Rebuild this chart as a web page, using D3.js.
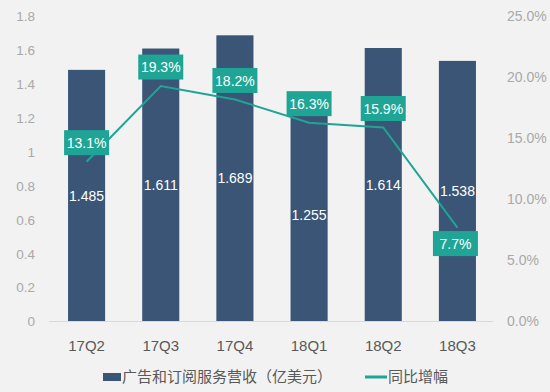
<!DOCTYPE html>
<html>
<head>
<meta charset="utf-8">
<script src="https://cdn.jsdelivr.net/npm/d3@7"></script>
<style>
  html, body { margin: 0; padding: 0; background: #f2f2f2; }
  svg { display: block; font-family: "Liberation Sans", Arial, "Noto Sans CJK SC", sans-serif; }
</style>
</head>
<body>
<svg id="chart" width="550" height="392"></svg>
<script>
// data
var quarters = ["17Q2", "17Q3", "17Q4", "18Q1", "18Q2", "18Q3"];
var revenue = [1.485, 1.611, 1.689, 1.255, 1.614, 1.538];
var growth = [13.1, 19.3, 18.2, 16.3, 15.9, 7.7];
var leftTicks = [0, 0.2, 0.4, 0.6, 0.8, 1, 1.2, 1.4, 1.6, 1.8];
var rightTicks = [0, 5, 10, 15, 20, 25];
var legendBar = "广告和订阅服务营收（亿美元）";
var legendLine = "同比增幅";

var svg = d3.select("#chart");
var barColor = "#3a5575", teal = "#1fa596";
var gray = "#a9a9a9", dark = "#595959";

var x = d3.scaleBand()
  .domain(quarters)
  .range([49.5, 494.5])
  .paddingInner(0.5)
  .paddingOuter(0.25);

var y = d3.scaleLinear().domain([0, 1.8]).range([321.5, 16.5]);
var y2 = d3.scaleLinear().domain([0, 25]).range([321.5, 16.5]);

// left axis
var leftAxis = d3.axisLeft(y).tickValues(leftTicks).tickSize(0).tickPadding(0)
  .tickFormat(function(d) { return d3.format("")(d); });
svg.append("g")
  .attr("transform", "translate(35,0)")
  .call(leftAxis)
  .call(function(g) { g.select(".domain").remove(); })
  .selectAll("text")
  .attr("fill", gray)
  .style("font-size", "13.5px");

// right axis
var rightAxis = d3.axisRight(y2).tickValues(rightTicks).tickSize(0).tickPadding(0)
  .tickFormat(function(d) { return d.toFixed(1) + "%"; });
svg.append("g")
  .attr("transform", "translate(507,0)")
  .call(rightAxis)
  .call(function(g) { g.select(".domain").remove(); })
  .selectAll("text")
  .attr("fill", gray)
  .style("font-size", "14px");

// bars
svg.append("g")
  .selectAll("rect")
  .data(revenue)
  .enter().append("rect")
  .attr("x", function(d, i) { return x(quarters[i]); })
  .attr("y", function(d) { return y(d); })
  .attr("width", x.bandwidth())
  .attr("height", function(d) { return y(0) - y(d); })
  .attr("fill", barColor);

// baseline
svg.append("line")
  .attr("x1", 49).attr("x2", 493)
  .attr("y1", y(0)).attr("y2", y(0))
  .attr("stroke", "#d9d9d9").attr("stroke-width", 1);

// category labels
var xAxis = d3.axisBottom(x).tickSize(0).tickPadding(0);
svg.append("g")
  .attr("transform", "translate(0,340)")
  .call(xAxis)
  .call(function(g) { g.select(".domain").remove(); })
  .selectAll("text")
  .attr("fill", dark)
  .style("font-size", "15px");

// bar value labels, centred in the bar
svg.append("g")
  .selectAll("text")
  .data(revenue)
  .enter().append("text")
  .attr("x", function(d, i) { return x(quarters[i]) + x.bandwidth() / 2; })
  .attr("y", function(d) { return (y(d) + y(0)) / 2; })
  .attr("dy", "0.35em")
  .attr("text-anchor", "middle")
  .attr("fill", "#fff")
  .style("font-size", "14px")
  .text(function(d) { return d3.format(".3f")(d); });

// growth line
var line = d3.line()
  .x(function(d, i) { return x(quarters[i]) + x.bandwidth() / 2; })
  .y(function(d) { return y2(d); });

svg.append("path")
  .datum(growth)
  .attr("d", line)
  .attr("fill", "none")
  .attr("stroke", teal)
  .attr("stroke-width", 2);

// growth label boxes
var boxW = 45, boxH = 25;
var lab = svg.append("g")
  .selectAll("g")
  .data(growth)
  .enter().append("g")
  .attr("transform", function(d, i) {
    var cx = x(quarters[i]) + x.bandwidth() / 2;
    var cy = y2(d) + (i === growth.length - 1 ? 16 : -19);
    if (i === growth.length - 1) cx -= 2;
    return "translate(" + cx + "," + cy + ")";
  });
lab.append("rect")
  .attr("x", -boxW / 2).attr("y", -boxH / 2)
  .attr("width", boxW).attr("height", boxH)
  .attr("fill", teal);
lab.append("text")
  .attr("text-anchor", "middle")
  .attr("dy", "0.36em")
  .attr("fill", "#fff")
  .style("font-size", "14px")
  .text(function(d) { return d.toFixed(1) + "%"; });

// legend
var legend = svg.append("g")
  .style("font-family", "'Noto Sans CJK SC', sans-serif")
  .style("font-size", "15px");
legend.append("rect")
  .attr("x", 103).attr("y", 373)
  .attr("width", 18).attr("height", 8)
  .attr("fill", barColor);
legend.append("text")
  .attr("x", 122).attr("y", 377)
  .attr("dy", "0.35em")
  .attr("fill", dark)
  .text(legendBar);
legend.append("line")
  .attr("x1", 365).attr("x2", 387)
  .attr("y1", 377).attr("y2", 377)
  .attr("stroke", teal).attr("stroke-width", 3);
legend.append("text")
  .attr("x", 388).attr("y", 377)
  .attr("dy", "0.35em")
  .attr("fill", dark)
  .text(legendLine);
</script>
</body>
</html>
